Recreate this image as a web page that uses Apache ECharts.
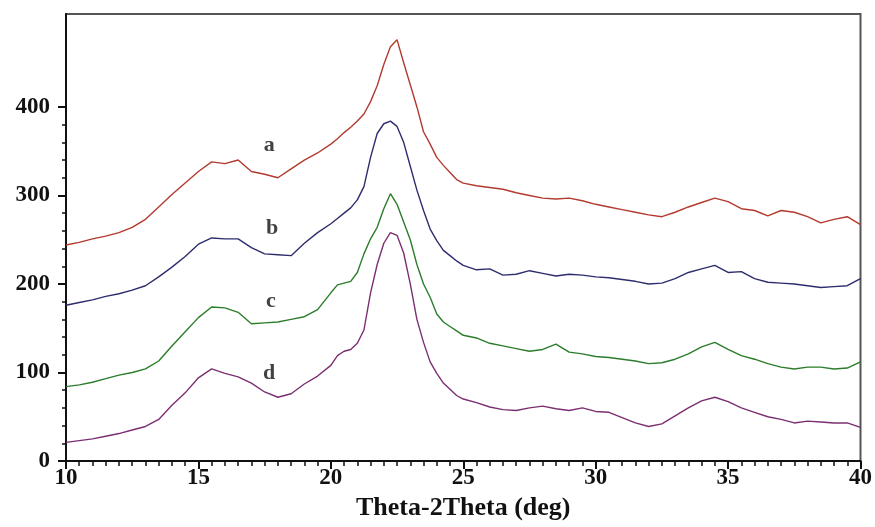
<!DOCTYPE html>
<html>
<head>
<meta charset="utf-8">
<script src="https://cdn.jsdelivr.net/npm/echarts@6/dist/echarts.min.js"></script>
<style>
html,body{margin:0;padding:0;background:#fff;}
#chart{width:875px;height:527px;}
</style>
</head>
<body>
<div id="chart"></div>
<script>
// 2-theta positions (deg)
var xs = [10,10.5,11,11.5,12,12.5,13,13.5,14,14.5,15,15.5,16,16.5,17,17.5,18,18.5,19,19.5,
  20,20.25,20.5,20.75,21,21.25,21.5,21.75,22,22.25,22.5,22.75,23,23.25,23.5,23.75,24,24.25,24.5,24.75,25,
  25.5,26,26.5,27,27.5,28,28.5,29,29.5,30,30.5,31,31.5,32,32.5,33,33.5,34,34.5,35,35.5,36,36.5,37,37.5,38,38.5,39,39.5,40];

var curveA = [244,247,251,254,258,264,273,287,301,314,327,338,336,340,327,324,320,330,340,348,
  358,364,371,377,384,392,406,424,448,468,476,450,425,400,372,358,343,334,326,318,314,
  311,309,307,303,300,297,296,297,294,290,287,284,281,278,276,281,287,292,297,293,285,283,277,283,281,276,269,273,276,267];

var curveB = [176,179,182,186,189,193,198,208,219,231,245,252,251,251,241,234,233,232,246,258,
  268,274,280,286,295,310,343,370,381,384,378,360,333,306,283,262,249,238,232,226,221,
  216,217,210,211,215,212,209,211,210,208,207,205,203,200,201,206,213,217,221,213,214,206,202,201,200,198,196,197,198,206];

var curveC = [84,86,89,93,97,100,104,113,130,146,162,174,173,168,155,156,157,160,163,171,
  190,199,201,203,213,234,251,264,285,302,290,270,250,222,200,185,166,157,152,147,142,
  139,133,130,127,124,126,132,123,121,118,117,115,113,110,111,115,121,129,134,126,119,115,110,106,104,106,106,104,105,112];

var curveD = [21,23,25,28,31,35,39,47,63,77,94,104,99,95,88,78,72,76,87,96,
  108,119,124,126,133,148,190,222,246,258,255,235,200,160,134,112,99,88,81,74,70,
  66,61,58,57,60,62,59,57,60,56,55,49,43,39,42,51,60,68,72,67,60,55,50,47,43,45,44,43,43,38];

var seriesNames = ['a','b','c','d'];
var seriesColors = ['#b23a2e','#2d2d6e','#2b7d2b','#7b2f72'];
var labelPos = [[17.67,357],[17.78,263],[17.74,180],[17.67,99]];

var yMajor = [0,100,200,300,400];
var yMinor = [20,40,60,80,120,140,160,180,220,240,260,280,320,340,360,380];

function pairs(ys){ return xs.map(function(x,i){ return [x, ys[i]]; }); }

var chart = echarts.init(document.getElementById('chart'), null, {renderer:'canvas'});
var font = 'Liberation Serif';
var curves = [curveA, curveB, curveC, curveD];
var series = curves.map(function(c,i){
  return {type:'line', name:seriesNames[i], data:pairs(c), showSymbol:false, symbol:'none',
    lineStyle:{color:seriesColors[i], width:1.4}, xAxisIndex:0, yAxisIndex:0, z:3, animation:false};
});
series.push({
  type:'scatter', data:labelPos.map(function(p,i){return {value:p, name:seriesNames[i]};}),
  symbolSize:0, xAxisIndex:0, yAxisIndex:0, animation:false, silent:true,
  label:{show:true, position:'inside', formatter:function(p){return p.name;},
    fontFamily:font, fontWeight:'bold', fontSize:22, color:'#111'}
});

chart.setOption({
  backgroundColor:'#fff',
  animation:false,
  grid:{left:66, right:11, top:14, bottom:66, show:true, borderColor:'#555', borderWidth:2},
  xAxis:[{
    type:'value', min:10, max:40, interval:5,
    name:'Theta-2Theta (deg)', nameLocation:'middle', nameGap:32,
    nameTextStyle:{fontFamily:font, fontWeight:'bold', fontSize:26, color:'#111'},
    axisLine:{show:true, onZero:false, lineStyle:{color:'#111', width:2}},
    axisTick:{show:true, inside:false, length:8, lineStyle:{color:'#111', width:2}},
    minorTick:{show:true, splitNumber:10, length:5, lineStyle:{color:'#111', width:1.5}},
    axisLabel:{fontFamily:font, fontWeight:'bold', fontSize:23, color:'#111', margin:6},
    splitLine:{show:false}
  }],
  yAxis:[{
    type:'value', min:0, max:505,
    axisLine:{show:true, lineStyle:{color:'#111', width:2}},
    axisTick:{show:true, length:8, customValues:yMajor, lineStyle:{color:'#111', width:2}},
    axisLabel:{fontFamily:font, fontWeight:'bold', fontSize:23, color:'#111', margin:16, customValues:yMajor},
    splitLine:{show:false}
  },{
    type:'value', min:0, max:505, position:'left',
    axisLine:{show:false},
    axisTick:{show:true, length:4, customValues:yMinor, lineStyle:{color:'#111', width:1.5}},
    axisLabel:{show:false},
    splitLine:{show:false}
  }],
  series:series
});
</script>
</body>
</html>
